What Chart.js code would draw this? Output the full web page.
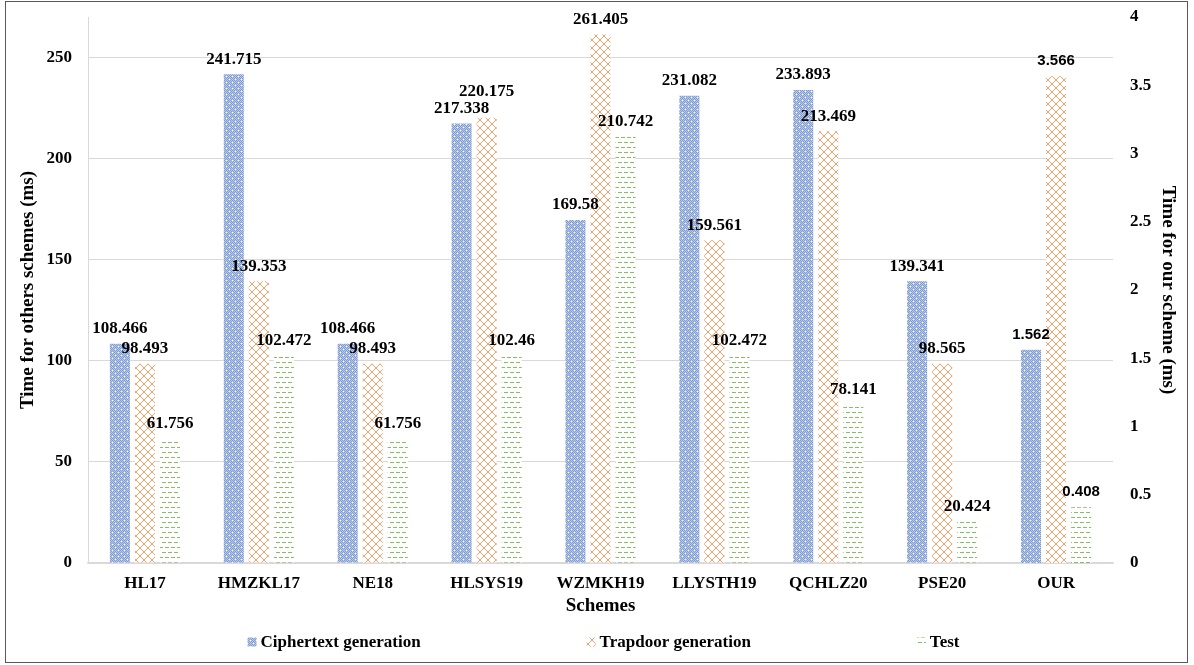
<!DOCTYPE html>
<html>
<head>
<meta charset="utf-8">
<script src="https://cdn.jsdelivr.net/npm/chart.js@4.4.0/dist/chart.umd.min.js"></script>
<style>
  html, body { margin: 0; padding: 0; background: #fff; }
  canvas { display: block; }
</style>
</head>
<body>
<canvas id="chart" width="1194" height="665"></canvas>
<script>
// Data
const schemes = ['HL17', 'HMZKL17', 'NE18', 'HLSYS19', 'WZMKH19', 'LLYSTH19', 'QCHLZ20', 'PSE20', 'OUR'];

// other schemes, left axis (OUR is on the right axis)
const ciphertextOthers = [108.466, 241.715, 108.466, 217.338, 169.58, 231.082, 233.893, 139.341, null];
const trapdoorOthers = [98.493, 139.353, 98.493, 220.175, 261.405, 159.561, 213.469, 98.565, null];
const testOthers = [61.756, 102.472, 61.756, 102.46, 210.742, 102.472, 78.141, 20.424, null];

// our scheme, right axis
const ciphertextOur = [null, null, null, null, null, null, null, null, 1.562];
const trapdoorOur = [null, null, null, null, null, null, null, null, 3.566];
const testOur = [null, null, null, null, null, null, null, null, 0.408];

const seriesNames = ['Ciphertext generation', 'Trapdoor generation', 'Test'];
const leftTicks = [0, 50, 100, 150, 200, 250];
const rightTicks = [0, 0.5, 1, 1.5, 2, 2.5, 3, 3.5, 4];

const serif = "'Liberation Serif', 'Times New Roman', serif";
const sans = "'Liberation Sans', Arial, sans-serif";

// Fill patterns like the Excel ones
function makePattern(kind) {
  const c = document.createElement('canvas');
  const g = c.getContext('2d');
  if (kind === 'blue') {
    c.width = 6; c.height = 6;
    for (let y = 0; y < 6; y++) {
      for (let x = 0; x < 6; x++) {
        g.fillStyle = (x + y) % 2 === 0 ? '#7f9bd3' : '#bccaea';
        g.fillRect(x, y, 1, 1);
      }
    }
    g.fillStyle = '#ffffff';
    g.fillRect(1, 1, 1, 1);
    g.fillRect(4, 4, 1, 1);
  } else if (kind === 'orange') {
    c.width = 8; c.height = 8;
    g.fillStyle = '#ffffff';
    g.fillRect(0, 0, 8, 8);
    g.fillStyle = '#f0a26f';
    for (let i = 0; i < 8; i++) {
      g.fillRect(i, i, 1, 1);
      g.fillRect(7 - i, i, 1, 1);
    }
  } else {
    c.width = 6; c.height = 10;
    g.fillStyle = '#ffffff';
    g.fillRect(0, 0, 6, 10);
    g.fillStyle = '#86bf62';
    g.fillRect(0, 2, 4, 1);
    g.fillRect(3, 7, 3, 1);
    g.fillRect(0, 7, 1, 1);
  }
  return c;
}

const ctx = document.getElementById('chart').getContext('2d');
const patterns = ['blue', 'orange', 'green'].map(k => ctx.createPattern(makePattern(k), 'repeat'));

// Labels above the bars, moved up when they collide in the same group
const valueLabels = {
  id: 'valueLabels',
  afterDatasetsDraw(chart) {
    const c = chart.ctx;
    const placed = {};
    chart.data.datasets.forEach((ds, di) => {
      const meta = chart.getDatasetMeta(di);
      c.save();
      c.font = ds.yAxisID === 'y2' ? 'bold 15px ' + sans : 'bold 17px ' + serif;
      c.fillStyle = '#000';
      c.textAlign = 'center';
      c.textBaseline = 'middle';
      meta.data.forEach((bar, i) => {
        const v = ds.data[i];
        if (v === null || v === undefined) return;
        const text = String(v);
        const w = c.measureText(text).width;
        let y = bar.y - 15;
        const boxes = placed[i] || (placed[i] = []);
        boxes.forEach(b => {
          if (Math.abs(bar.x - b.x) < (w + b.w) / 2 && Math.abs(y - b.y) < 14) y = b.y - 17;
        });
        boxes.push({ x: bar.x, y: y, w: w });
        c.fillText(text, bar.x, y);
      });
      c.restore();
    });
  }
};

// Legend spread out along the bottom, plus the outer frame
const frameAndLegend = {
  id: 'frameAndLegend',
  beforeDraw(chart) {
    const c = chart.ctx;
    c.save();
    c.fillStyle = '#fff';
    c.fillRect(0, 0, chart.width, chart.height);
    c.restore();
  },
  afterDraw(chart) {
    const c = chart.ctx;
    const area = chart.chartArea;
    c.save();
    c.font = 'bold 17px ' + serif;
    const box = 9, gap = 4, spacing = 166;
    const widths = seriesNames.map(n => box + gap + c.measureText(n).width);
    const total = widths.reduce((a, b) => a + b, 0) + spacing * (seriesNames.length - 1);
    let x = (area.left + area.right) / 2 + 3 - total / 2;
    const y = 642;
    c.textBaseline = 'middle';
    c.textAlign = 'left';
    seriesNames.forEach((n, i) => {
      c.fillStyle = patterns[i];
      c.fillRect(x, y - box / 2, box, box);
      c.fillStyle = '#000';
      c.fillText(n, x + box + gap, y + 1);
      x += widths[i] + spacing;
    });
    c.strokeStyle = '#595959';
    c.lineWidth = 1;
    c.strokeRect(5.5, 1.5, 1182, 661);
    c.restore();
  }
};

function barSet(label, data, idx, axis) {
  return {
    label: label,
    data: data,
    yAxisID: axis,
    backgroundColor: patterns[idx],
    borderWidth: 0,
    skipNull: true,
    barPercentage: 0.8,
    categoryPercentage: 0.66
  };
}

const tickFont = { family: serif, size: 17, weight: 'bold' };
const titleFont = { family: serif, size: 19, weight: 'bold' };

new Chart(ctx, {
  type: 'bar',
  data: {
    labels: schemes,
    datasets: [
      barSet(seriesNames[0], ciphertextOthers, 0, 'y'),
      barSet(seriesNames[1], trapdoorOthers, 1, 'y'),
      barSet(seriesNames[2], testOthers, 2, 'y'),
      barSet(seriesNames[0], ciphertextOur, 0, 'y2'),
      barSet(seriesNames[1], trapdoorOur, 1, 'y2'),
      barSet(seriesNames[2], testOur, 2, 'y2')
    ]
  },
  options: {
    responsive: false,
    animation: false,
    layout: { padding: { top: 17, bottom: 45, left: 0, right: 0 } },
    plugins: {
      legend: { display: false },
      tooltip: { enabled: false }
    },
    scales: {
      x: {
        grid: { display: false, drawTicks: false },
        border: { display: true, color: '#d9d9d9', width: 1.5 },
        ticks: { color: '#000', font: tickFont, padding: 10 },
        title: { display: true, text: 'Schemes', color: '#000', font: titleFont, padding: { top: 0, bottom: 3 } },
        afterFit: s => { s.height = 57; }
      },
      y: {
        position: 'left',
        min: 0,
        max: 270,
        grid: { color: '#d9d9d9', drawTicks: false },
        border: { display: true, color: '#d9d9d9' },
        ticks: { color: '#000', font: tickFont, padding: 16 },
        afterBuildTicks: s => { s.ticks = leftTicks.map(v => ({ value: v })); },
        title: { display: true, text: 'Time for others schemes (ms)', color: '#000', font: titleFont, padding: { top: 17, bottom: 0 } },
        afterFit: s => { s.width = 88; s.paddingTop = 0; s.paddingBottom = 0; }
      },
      y2: {
        position: 'right',
        min: 0,
        max: 4,
        grid: { display: false, drawTicks: false },
        border: { display: false },
        ticks: { color: '#000', font: tickFont, padding: 17, callback: v => String(v) },
        afterBuildTicks: s => { s.ticks = rightTicks.map(v => ({ value: v })); },
        title: { display: true, text: 'Time for our scheme (ms)', color: '#000', font: titleFont, padding: { top: 15, bottom: 0 } },
        afterFit: s => { s.width = 81; s.paddingTop = 0; s.paddingBottom = 0; }
      }
    }
  },
  plugins: [valueLabels, frameAndLegend]
});
</script>
</body>
</html>
